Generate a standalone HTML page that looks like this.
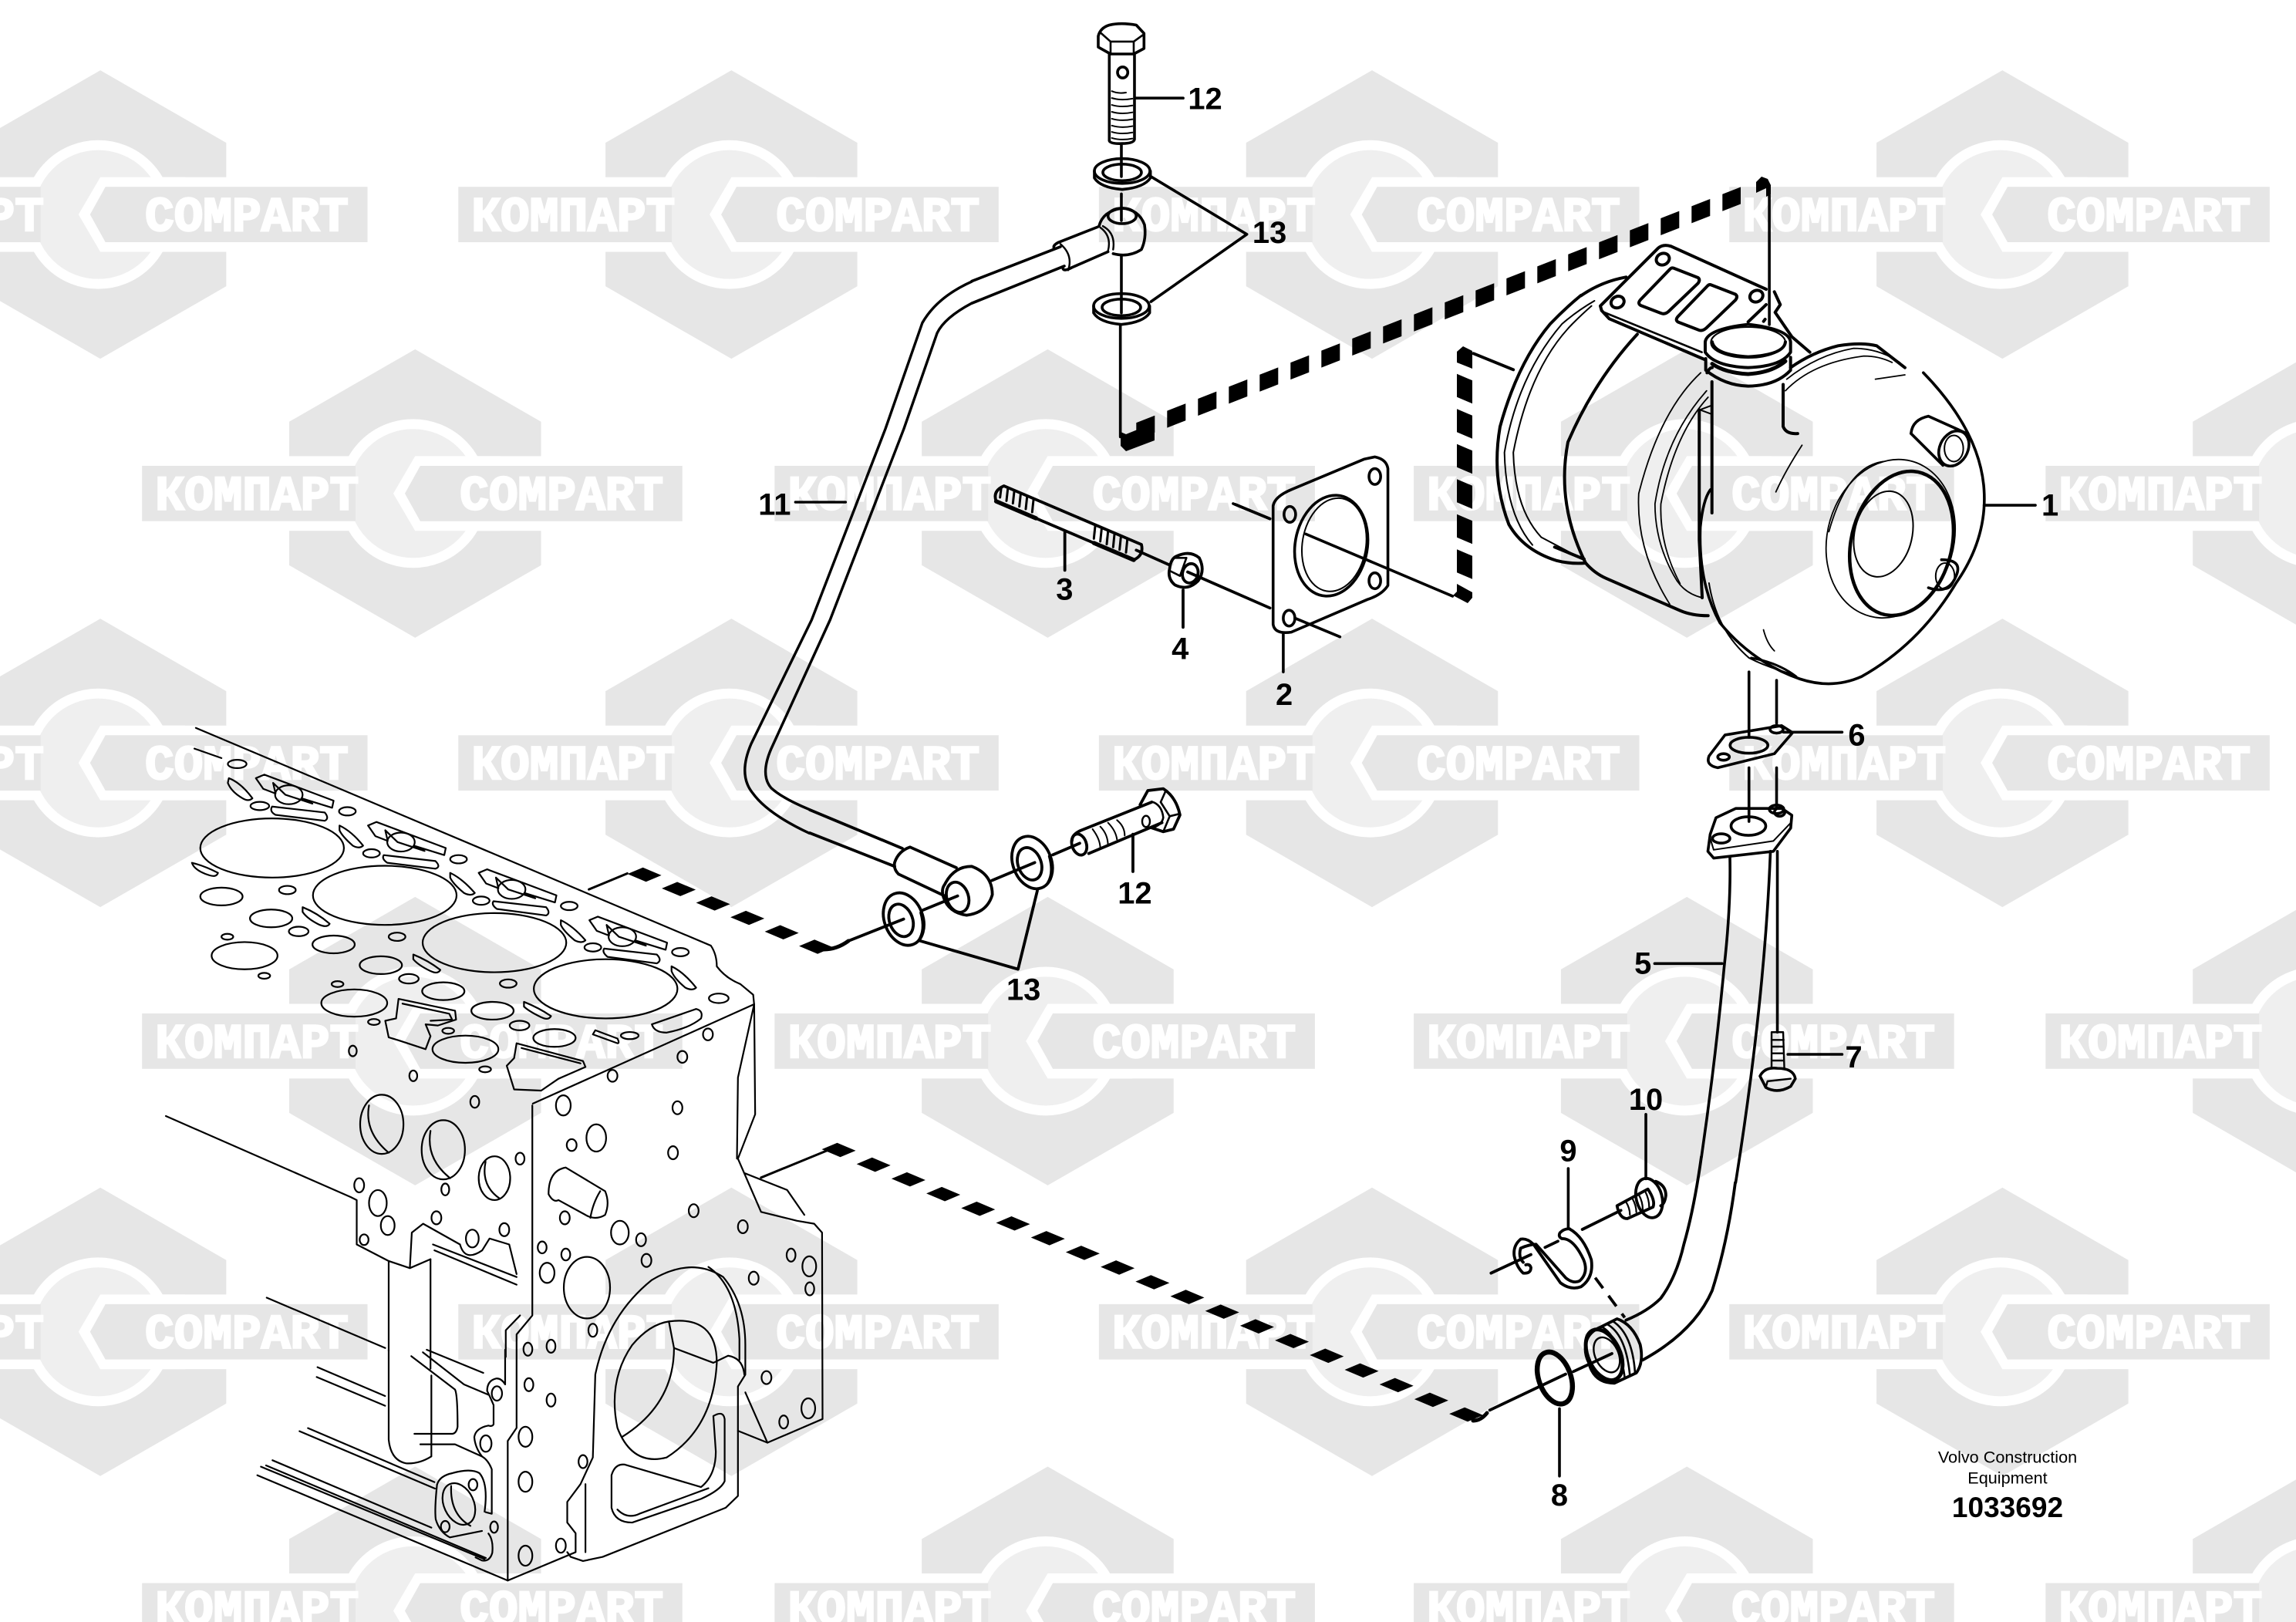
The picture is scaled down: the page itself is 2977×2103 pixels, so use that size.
<!DOCTYPE html>
<html><head><meta charset="utf-8"><title>Turbocharger diagram</title>
<style>
html,body{margin:0;padding:0;background:#fff;width:2977px;height:2103px;overflow:hidden}
svg{display:block}
.a{fill:none;stroke:#000;stroke-linejoin:round;stroke-linecap:round;vector-effect:non-scaling-stroke}
.a *{vector-effect:non-scaling-stroke}
.w{font-family:"Liberation Mono","Liberation Sans",monospace;font-weight:bold;font-size:33px;fill:#fff;stroke:#fff;stroke-width:1.3px;text-anchor:middle}
.l{font-family:"Liberation Sans",sans-serif;font-weight:bold;font-size:21px;fill:#000;text-anchor:middle}
</style></head><body>
<svg xmlns="http://www.w3.org/2000/svg" width="2977" height="2103" viewBox="0 0 2977 2103">
<rect width="2977" height="2103" fill="#fff"/>
<defs>
<g id="tile">
<polygon points="2,-98.5 88,-49 88,49 2,98.5 -84,49 -84,-49" fill="#e6e6e6"/>
<rect x="-190" y="-25.5" width="380" height="51" fill="#fff"/>
<circle cx="0.6" cy="0" r="47.4" fill="#efefef" stroke="#fff" stroke-width="6.8"/>
<polygon points="2,-25.5 -12.9,0 2,25.5 60,25.5 60,-25.5" fill="#fff"/>
<rect x="-184.5" y="-18.9" width="145.8" height="37.8" fill="#e6e6e6"/>
<polygon points="5.5,-18.9 -5,0 5.5,18.9 184.5,18.9 184.5,-18.9" fill="#e6e6e6"/>
</g>
</defs>
<g transform="scale(1.8986)">
<use href="#tile" x="66.5" y="146.5"/><use href="#tile" x="497.5" y="146.5"/><use href="#tile" x="935" y="146.5"/><use href="#tile" x="1365.5" y="146.5"/>
<use href="#tile" x="281.5" y="337"/><use href="#tile" x="713.5" y="337"/><use href="#tile" x="1150" y="337"/><use href="#tile" x="1581.5" y="337"/>
<use href="#tile" x="66.5" y="521"/><use href="#tile" x="497.5" y="521"/><use href="#tile" x="935" y="521"/><use href="#tile" x="1365.5" y="521"/>
<use href="#tile" x="281.5" y="711"/><use href="#tile" x="713.5" y="711"/><use href="#tile" x="1150" y="711"/><use href="#tile" x="1581.5" y="711"/>
<use href="#tile" x="66.5" y="909.5"/><use href="#tile" x="497.5" y="909.5"/><use href="#tile" x="935" y="909.5"/><use href="#tile" x="1365.5" y="909.5"/>
<use href="#tile" x="281.5" y="1100"/><use href="#tile" x="713.5" y="1100"/><use href="#tile" x="1150" y="1100"/><use href="#tile" x="1581.5" y="1100"/>
<g class="w">
<text x="-39.5" y="157.5" textLength="139" lengthAdjust="spacingAndGlyphs">КОМПАРТ</text><text x="168.5" y="157.5" textLength="139" lengthAdjust="spacingAndGlyphs">COMPART</text>
<text x="391.5" y="157.5" textLength="139" lengthAdjust="spacingAndGlyphs">КОМПАРТ</text><text x="599.5" y="157.5" textLength="139" lengthAdjust="spacingAndGlyphs">COMPART</text>
<text x="829" y="157.5" textLength="139" lengthAdjust="spacingAndGlyphs">КОМПАРТ</text><text x="1037" y="157.5" textLength="139" lengthAdjust="spacingAndGlyphs">COMPART</text>
<text x="1259.5" y="157.5" textLength="139" lengthAdjust="spacingAndGlyphs">КОМПАРТ</text><text x="1467.5" y="157.5" textLength="139" lengthAdjust="spacingAndGlyphs">COMPART</text>
<text x="175.5" y="348" textLength="139" lengthAdjust="spacingAndGlyphs">КОМПАРТ</text><text x="383.5" y="348" textLength="139" lengthAdjust="spacingAndGlyphs">COMPART</text>
<text x="607.5" y="348" textLength="139" lengthAdjust="spacingAndGlyphs">КОМПАРТ</text><text x="815.5" y="348" textLength="139" lengthAdjust="spacingAndGlyphs">COMPART</text>
<text x="1044" y="348" textLength="139" lengthAdjust="spacingAndGlyphs">КОМПАРТ</text><text x="1252" y="348" textLength="139" lengthAdjust="spacingAndGlyphs">COMPART</text>
<text x="1475.5" y="348" textLength="139" lengthAdjust="spacingAndGlyphs">КОМПАРТ</text>
<text x="-39.5" y="532" textLength="139" lengthAdjust="spacingAndGlyphs">КОМПАРТ</text><text x="168.5" y="532" textLength="139" lengthAdjust="spacingAndGlyphs">COMPART</text>
<text x="391.5" y="532" textLength="139" lengthAdjust="spacingAndGlyphs">КОМПАРТ</text><text x="599.5" y="532" textLength="139" lengthAdjust="spacingAndGlyphs">COMPART</text>
<text x="829" y="532" textLength="139" lengthAdjust="spacingAndGlyphs">КОМПАРТ</text><text x="1037" y="532" textLength="139" lengthAdjust="spacingAndGlyphs">COMPART</text>
<text x="1259.5" y="532" textLength="139" lengthAdjust="spacingAndGlyphs">КОМПАРТ</text><text x="1467.5" y="532" textLength="139" lengthAdjust="spacingAndGlyphs">COMPART</text>
<text x="175.5" y="722" textLength="139" lengthAdjust="spacingAndGlyphs">КОМПАРТ</text><text x="383.5" y="722" textLength="139" lengthAdjust="spacingAndGlyphs">COMPART</text>
<text x="607.5" y="722" textLength="139" lengthAdjust="spacingAndGlyphs">КОМПАРТ</text><text x="815.5" y="722" textLength="139" lengthAdjust="spacingAndGlyphs">COMPART</text>
<text x="1044" y="722" textLength="139" lengthAdjust="spacingAndGlyphs">КОМПАРТ</text><text x="1252" y="722" textLength="139" lengthAdjust="spacingAndGlyphs">COMPART</text>
<text x="1475.5" y="722" textLength="139" lengthAdjust="spacingAndGlyphs">КОМПАРТ</text>
<text x="-39.5" y="920.5" textLength="139" lengthAdjust="spacingAndGlyphs">КОМПАРТ</text><text x="168.5" y="920.5" textLength="139" lengthAdjust="spacingAndGlyphs">COMPART</text>
<text x="391.5" y="920.5" textLength="139" lengthAdjust="spacingAndGlyphs">КОМПАРТ</text><text x="599.5" y="920.5" textLength="139" lengthAdjust="spacingAndGlyphs">COMPART</text>
<text x="829" y="920.5" textLength="139" lengthAdjust="spacingAndGlyphs">КОМПАРТ</text><text x="1037" y="920.5" textLength="139" lengthAdjust="spacingAndGlyphs">COMPART</text>
<text x="1259.5" y="920.5" textLength="139" lengthAdjust="spacingAndGlyphs">КОМПАРТ</text><text x="1467.5" y="920.5" textLength="139" lengthAdjust="spacingAndGlyphs">COMPART</text>
<text x="175.5" y="1109" textLength="139" lengthAdjust="spacingAndGlyphs">КОМПАРТ</text><text x="383.5" y="1109" textLength="139" lengthAdjust="spacingAndGlyphs">COMPART</text>
<text x="607.5" y="1109" textLength="139" lengthAdjust="spacingAndGlyphs">КОМПАРТ</text><text x="815.5" y="1109" textLength="139" lengthAdjust="spacingAndGlyphs">COMPART</text>
<text x="1044" y="1109" textLength="139" lengthAdjust="spacingAndGlyphs">КОМПАРТ</text><text x="1252" y="1109" textLength="139" lengthAdjust="spacingAndGlyphs">COMPART</text>
<text x="1475.5" y="1109" textLength="139" lengthAdjust="spacingAndGlyphs">КОМПАРТ</text>
</g>
</g>

<!-- Thick dashed connectors: sheared dashes -->
<g fill="none" stroke="#000">
<path transform="translate(2125,305) matrix(1,-0.39,0,1,0,0)" d="M-651.7 0 H132" stroke-width="22" stroke-dasharray="24 16"/>
<path transform="translate(1899,504) matrix(1,0.42,0,1,0,0)" d="M0 -15 V243" stroke-width="20" stroke-dasharray="30 15.5"/>
<path transform="translate(835.6,1134) matrix(1,0.42,1,-0.42,0,0)" d="M-12 0 H234.5" stroke-width="20" stroke-dasharray="24 20.5"/>
<path transform="translate(1087.5,1491) matrix(1,0.4216,1,-0.4216,0,0)" d="M-12 0 H825.5" stroke-width="20" stroke-dasharray="24 21.2"/>
</g>
<g fill="#000" stroke="none">
<polygon points="1453,560 1453,578 1460,585 1497,571 1497,548 1460,563"/>
<polygon points="2277,236 2284,229 2292,232 2296,240 2296,252 2290,255 2290,244 2277,250"/>
<polygon points="1889,470 1889,456 1897,449 1909,455 1909,478"/>
<polygon points="1889,757 1909,768 1909,775 1903,782 1884,772 1889,767"/>
</g>
<g class="a" stroke-width="4">
<path d="M1068 1231 Q1085 1231 1100 1220" stroke-width="5"/>
<path d="M1910 1842 Q1920 1842 1928 1832" stroke-width="5"/>
</g>

<!-- Engine block -->
<g class="a" stroke-width="2.2" transform="translate(150,900) scale(0.6378,0.7672)">
<path d="M163 57 L1210 425 Q1222 440 1222 460 Q1240 480 1270 490 L1296 508 L1298 525"/>
<path d="M160 92 L215 108"/>
<path d="M848 692 L1298 524 L1265 648 L1263 785 M1298 524 L1300 710 L1265 785 L1312 875 L1385 890 L1420 895 L1436 910 L1437 1225 L1325 1265 L1265 1245"/>
<path d="M1280 810 L1365 838 L1400 880"/>
<path d="M847 695 L847 1050 L815 1082 L815 1240 L797 1262 L797 1498"/>
<path d="M822 1050 L793 1075 L793 1120"/>
<path d="M288 1320 L797 1498 L935 1450 L935 1418 L918 1400 L918 1365 L945 1335 L970 1290 L975 1150 Q1000 1050 1090 990 Q1170 950 1235 985 Q1280 1030 1280 1100 L1280 1150 L1265 1170 L1265 1355 L1240 1375 L990 1458 L950 1465 L925 1458 L918 1450"/>
<path d="M1205 968 Q1262 1000 1268 1090 L1268 1125"/>
<path d="M955 1335 L955 1450"/>
<path d="M1280 1180 L1325 1265"/>
<path d="M1125 1060 Q1222 1050 1222 1130 Q1215 1240 1120 1290 Q1050 1305 1020 1240 Q1000 1160 1050 1100 Q1085 1065 1125 1060 Z"/>
<path d="M1125 1062 L1135 1105 L1215 1130 L1245 1118 Q1275 1122 1278 1150"/>
<path d="M1135 1105 Q1135 1200 1030 1255"/>
<path d="M1035 1302 L1190 1340 Q1220 1320 1220 1280 L1215 1220 Q1235 1210 1238 1225 L1238 1330 Q1230 1345 1190 1360 L1050 1400 Q1015 1400 1008 1375 L1008 1320 Q1015 1300 1035 1302"/>
<path d="M1020 1378 Q1040 1395 1065 1385 L1205 1342"/>
<!-- left side -->
<path d="M102 713 L478 850 L490 855 L490 930 L555 958 L598 970 L640 955 M555 958 V1110"/>
<path d="M598 970 L602 910 L625 895 L700 930 Q710 960 745 940 L760 920 L800 930 L815 980"/>
<path d="M640 955 V1140 M645 930 L815 985 M648 940 L815 998"/>
<path d="M307 1020 L548 1105"/>
<!-- top holes -->
<g>
<ellipse cx="318" cy="260" rx="146" ry="50"/><ellipse cx="547" cy="340" rx="146" ry="50"/><ellipse cx="770" cy="420" rx="146" ry="50"/><ellipse cx="996" cy="498" rx="146" ry="50"/>
<ellipse cx="215" cy="342" rx="43" ry="15"/><ellipse cx="316" cy="379" rx="43" ry="15"/><ellipse cx="262" cy="442" rx="67" ry="23"/><ellipse cx="443" cy="423" rx="43" ry="15"/><ellipse cx="539" cy="458" rx="43" ry="15"/><ellipse cx="485" cy="522" rx="67" ry="23"/><ellipse cx="666" cy="502" rx="43" ry="15"/><ellipse cx="766" cy="535" rx="43" ry="15"/><ellipse cx="711" cy="600" rx="67" ry="23"/><ellipse cx="892" cy="581" rx="43" ry="15"/>
<ellipse cx="247" cy="118" rx="19" ry="7"/><ellipse cx="293" cy="189" rx="19" ry="7"/><ellipse cx="471" cy="198" rx="17" ry="7"/><ellipse cx="520" cy="269" rx="17" ry="7"/><ellipse cx="697" cy="279" rx="17" ry="7"/><ellipse cx="743" cy="349" rx="17" ry="7"/><ellipse cx="922" cy="358" rx="17" ry="7"/><ellipse cx="970" cy="428" rx="17" ry="7"/><ellipse cx="1148" cy="436" rx="17" ry="7"/><ellipse cx="1226" cy="514" rx="20" ry="8"/><ellipse cx="349" cy="331" rx="17" ry="7"/><ellipse cx="372" cy="401" rx="20" ry="8"/><ellipse cx="572" cy="410" rx="17" ry="7"/><ellipse cx="596" cy="481" rx="20" ry="8"/><ellipse cx="798" cy="489" rx="17" ry="7"/><ellipse cx="821" cy="560" rx="20" ry="8"/><ellipse cx="1045" cy="577" rx="18" ry="6"/><ellipse cx="227" cy="410" rx="12" ry="5"/><ellipse cx="302" cy="476" rx="12" ry="5"/><ellipse cx="451" cy="490" rx="12" ry="5"/><ellipse cx="525" cy="554" rx="12" ry="5"/><ellipse cx="676" cy="569" rx="12" ry="5"/><ellipse cx="751" cy="634" rx="12" ry="5"/>
<path d="M230 142 Q255 150 278 176 Q270 182 258 176 Q235 165 228 150 Z"/>
<path d="M155 285 Q180 290 208 302 Q205 310 190 306 Q160 298 155 285 Z"/>
<path d="M380 360 Q410 370 435 388 Q430 395 415 390 Q390 380 380 368 Z"/>
<path d="M605 440 Q635 450 660 466 Q655 474 640 468 Q615 458 605 448 Z"/>
<path d="M830 520 Q860 530 885 544 Q880 552 865 546 Q840 536 830 528 Z"/>
<path d="M455 222 Q480 232 503 256 Q495 262 482 256 Q460 240 455 230 Z"/>
<path d="M680 302 Q705 312 730 336 Q722 342 708 336 Q685 320 680 310 Z"/>
<path d="M905 382 Q930 392 955 416 Q947 422 933 416 Q910 400 905 390 Z"/>
<path d="M1130 460 Q1155 470 1180 496 Q1172 502 1158 496 Q1135 480 1130 468 Z"/>
<path d="M318 190 L425 200 Q435 210 425 214 L325 204 Q312 198 318 190 Z"/>
<path d="M545 272 L650 282 Q662 292 650 295 L552 285 Q540 278 545 272 Z"/>
<path d="M768 350 L875 360 Q885 370 875 374 L775 363 Q763 356 768 350 Z"/>
<path d="M993 430 L1100 440 Q1112 450 1100 455 L1000 444 Q988 436 993 430 Z"/>
<path d="M285 142 L302 136 L443 180 L440 192 L378 176 L400 185 L345 170 L320 150 L325 168 L300 160 Z"/><ellipse cx="352" cy="170" rx="28" ry="16"/>
<path d="M513 222 L530 216 L671 260 L668 272 L606 256 L628 265 L573 250 L548 230 L553 248 L528 240 Z"/><ellipse cx="580" cy="250" rx="28" ry="16"/>
<path d="M738 302 L755 296 L896 340 L893 352 L831 336 L853 345 L798 330 L773 310 L778 328 L753 320 Z"/><ellipse cx="805" cy="330" rx="28" ry="16"/>
<path d="M963 382 L980 376 L1121 420 L1118 432 L1056 416 L1078 425 L1023 410 L998 390 L1003 408 L978 400 Z"/><ellipse cx="1030" cy="410" rx="28" ry="16"/>
<path d="M1090 558 L1180 532 Q1195 535 1190 548 Q1165 565 1120 572 Q1095 572 1090 558 Z"/>
<path d="M970 575 L1020 590 Q1025 590 1020 582 L975 568 Z"/>
<path d="M575 515 L690 535 L692 550 L655 560 L630 558 L640 578 L630 600 L575 585 L555 580 L548 552 L570 548 Z"/>
<path d="M583 523 L678 540 L684 550 L640 552"/>
<path d="M815 590 L950 620 L955 630 L900 650 L865 670 L810 668 L795 628 L810 615 Z"/>
<path d="M825 598 L945 624"/>
<ellipse cx="482" cy="603" rx="8" ry="9"/><ellipse cx="605" cy="645" rx="8" ry="9"/><ellipse cx="730" cy="689" rx="9" ry="10"/><ellipse cx="822" cy="785" rx="9" ry="10"/><ellipse cx="495" cy="830" rx="10" ry="12"/><ellipse cx="533" cy="860" rx="18" ry="22"/><ellipse cx="553" cy="898" rx="14" ry="16"/><ellipse cx="505" cy="922" rx="9" ry="9"/><ellipse cx="652" cy="885" rx="10" ry="11"/><ellipse cx="670" cy="837" rx="8" ry="10"/><ellipse cx="725" cy="920" rx="13" ry="15"/><ellipse cx="790" cy="905" rx="10" ry="11"/>
<ellipse cx="541" cy="727" rx="44" ry="50"/><path d="M515 695 Q505 740 555 775"/>
<ellipse cx="666" cy="770" rx="44" ry="50"/><path d="M640 738 Q630 785 680 818"/>
<ellipse cx="770" cy="818" rx="32" ry="37"/><path d="M752 790 Q742 830 780 852"/>
<ellipse cx="910" cy="695" rx="15" ry="17"/><ellipse cx="1010" cy="645" rx="10" ry="10"/><ellipse cx="1152" cy="613" rx="10" ry="10"/><ellipse cx="1204" cy="575" rx="10" ry="10"/><ellipse cx="1142" cy="699" rx="10" ry="11"/><ellipse cx="977" cy="750" rx="20" ry="23"/><ellipse cx="927" cy="762" rx="10" ry="10"/><ellipse cx="1133" cy="775" rx="10" ry="11"/><ellipse cx="913" cy="885" rx="10" ry="11"/><ellipse cx="1175" cy="873" rx="10" ry="11"/><ellipse cx="1025" cy="910" rx="18" ry="20"/><ellipse cx="1068" cy="922" rx="10" ry="11"/><ellipse cx="867" cy="935" rx="9" ry="10"/><ellipse cx="915" cy="947" rx="9" ry="10"/><ellipse cx="1079" cy="957" rx="10" ry="11"/><ellipse cx="877" cy="978" rx="15" ry="17"/><ellipse cx="958" cy="1003" rx="47" ry="52"/><ellipse cx="970" cy="1075" rx="9" ry="11"/><ellipse cx="1275" cy="900" rx="10" ry="11"/><ellipse cx="1297" cy="987" rx="10" ry="11"/><ellipse cx="838" cy="1107" rx="9" ry="11"/><ellipse cx="885" cy="1102" rx="9" ry="11"/><ellipse cx="840" cy="1167" rx="9" ry="11"/><ellipse cx="885" cy="1193" rx="9" ry="11"/><ellipse cx="1373" cy="948" rx="9" ry="11"/><ellipse cx="1410" cy="967" rx="14" ry="17"/><ellipse cx="1411" cy="1005" rx="9" ry="11"/><ellipse cx="1323" cy="1155" rx="10" ry="11"/><ellipse cx="1358" cy="1230" rx="9" ry="11"/><ellipse cx="1408" cy="1207" rx="14" ry="17"/><ellipse cx="833" cy="1255" rx="14" ry="17"/><ellipse cx="833" cy="1331" rx="14" ry="17"/><ellipse cx="950" cy="1297" rx="9" ry="11"/><ellipse cx="905" cy="1439" rx="10" ry="12"/><ellipse cx="833" cy="1456" rx="14" ry="17"/>
<path d="M880 845 Q880 805 915 800 L995 840 Q1005 860 995 880 Q975 890 955 880 L900 855 Q890 860 880 845 Z"/><path d="M985 840 Q970 860 965 885"/>
</g>
<path d="M962 330 L1040 303" stroke-width="3"/>
<path d="M1312 817 L1450 770" stroke-width="3"/>
</g>

<!-- Engine lower-left detail -->
<g class="a" stroke-width="2.2" transform="translate(300,1750) scale(0.3333)">
<path d="M335 68 L598 180 M332 106 L598 218 M298 305 L790 515 M265 317 L792 540 M160 430 L778 692 M135 450 L990 810 M115 455 L985 815"/>
<path d="M1065 0 V135 Q1050 110 1030 112 Q995 120 995 160 Q1005 180 1020 215 L1020 290 Q1015 300 1000 295 Q950 305 945 340 Q948 380 975 415 Q1000 430 1013 465 V638 L990 632"/>
<path d="M612 0 V350 Q620 430 680 442 Q730 445 778 415 V100"/>
<path d="M700 25 L870 155 Q880 175 880 300 Q875 325 860 327 L712 327"/>
<path d="M745 10 L905 135 L1000 175 M760 0 L980 90"/>
<path d="M735 368 H870 L975 415"/>
<path d="M800 525 Q810 490 860 480 Q930 460 965 480 Q1000 520 985 630"/>
<path d="M800 525 Q790 620 795 660 Q810 710 850 730 L975 705"/>
<path d="M1000 715 Q1020 740 1015 790 Q1005 825 975 820 L950 808"/>
<ellipse cx="885" cy="600" rx="58" ry="85" transform="rotate(-25 885 600)"/>
<path d="M855 530 Q850 640 930 685"/>
<ellipse cx="940" cy="525" rx="17" ry="22"/><ellipse cx="832" cy="688" rx="17" ry="22"/><ellipse cx="1022" cy="690" rx="15" ry="22"/><ellipse cx="990" cy="365" rx="22" ry="32"/><ellipse cx="1033" cy="170" rx="20" ry="28"/>
</g>

<!-- Pipe 11 lower, leader -->
<g class="a" stroke-width="3.4" transform="scale(0.9567,0.6698)">
<path d="M1317 545 Q1270 575 1250 625 L1200 830 L1100 1200 L1018 1440 Q1000 1500 1020 1535 Q1040 1575 1097 1613"/>
<path d="M1317 587 Q1280 615 1270 645 L1225 830 L1125 1200 L1045 1450 Q1030 1500 1045 1525 Q1060 1545 1097 1567"/>
<path d="M1078 972 H1146"/>
</g>

<!-- Top banjo bolt -->
<g class="a" stroke-width="3.6" transform="translate(1260,20) scale(0.3333,0.3571)">
<path d="M492 75 Q500 45 535 35 Q580 25 640 35 L670 65 V120 L630 140 H540 L492 115 Z"/>
<path d="M500 62 L540 95 H630 L670 68 M540 95 V138 M630 95 V138" stroke-width="2.6"/>
<path d="M535 140 V455 Q540 467 585 465 Q630 465 633 450 V140"/>
<ellipse cx="587" cy="207" rx="20" ry="20"/>
<path d="M545 275 Q570 285 600 280 M545 300 Q580 310 625 302 M545 325 Q580 335 625 327 M545 350 Q580 360 625 352 M545 375 Q580 385 625 377 M545 400 Q580 410 625 402 M545 423 Q580 433 625 425 M545 445 Q580 455 625 447" stroke-width="2"/>
<path d="M582 470 V585 M582 648 V745 M582 870 V1080 M578 1125 V1530"/>
<ellipse cx="585" cy="565" rx="108" ry="45"/><ellipse cx="585" cy="570" rx="75" ry="30"/>
<path d="M477 565 V590 Q500 625 585 632 Q670 625 695 590 V565"/>
<ellipse cx="582" cy="1055" rx="108" ry="45"/><ellipse cx="582" cy="1060" rx="75" ry="30"/>
<path d="M474 1055 V1080 Q497 1115 582 1122 Q667 1115 692 1080 V1055"/>
<path d="M495 765 Q510 710 585 700 Q650 705 672 760 Q680 810 660 850 Q610 880 550 865"/>
<ellipse cx="585" cy="728" rx="55" ry="28"/>
<path d="M490 768 L335 825 Q315 835 320 845 M530 858 L390 915 Q360 930 355 920"/>
<path d="M510 765 Q560 790 550 850 M500 770 Q545 800 530 855 M345 830 Q395 870 375 925" stroke-width="2.4"/>
<path d="M0 965 L345 840 M0 1045 L360 910"/>
</g>

<!-- Stud & nut -->
<g class="a" stroke-width="3.8" transform="translate(1260,600) scale(0.3333)">
<path d="M125 90 L660 318 Q670 360 630 378 L95 150 Q80 110 125 90 Z"/>
<path d="M115 95 L110 135 M140 103 L135 148 M165 113 L160 158 M190 124 L185 170 M215 134 L210 180 M240 145 L235 192 M480 247 L475 295 M505 258 L500 306 M530 268 L525 317 M555 279 L550 328 M580 289 L575 338 M605 300 L600 349" stroke-width="3"/>
<path d="M95 150 L250 216 M475 312 L630 378" stroke-width="5.5"/>
<path d="M640 340 L770 398"/>
<path d="M770 410 Q775 370 800 362 Q850 340 885 370 Q910 420 880 460 Q840 500 790 475 Q760 450 770 410 Z"/>
<path d="M785 370 L835 370 L810 440 L770 420" stroke-width="2.6"/>
<ellipse cx="850" cy="430" rx="30" ry="38" transform="rotate(15 850 430)"/>
<path d="M840 425 L1160 565"/>
<path d="M822 495 V640 M362 270 V418"/>
<path d="M1025 162 L1160 218"/>
</g>

<!-- Upper leaders -->
<g class="a" stroke-width="3.6" transform="scale(1.8986)">
<path d="M775 67 H808"/>
<path d="M786 120.6 L851.5 160 L786 206"/>
<path d="M1355 345 H1390"/>
<path d="M1218 500 H1258"/>
<path d="M1130 658 H1176"/>
<path d="M1221 720 H1258"/>
<path d="M1124 761 V805"/>
<path d="M1071 798 V839"/>
<path d="M1065 962 V1008"/>
</g>

<!-- Turbo rear section -->
<g class="a" stroke-width="4" transform="translate(1700,420) scale(0.3827,0.3333)">
<path d="M914 -111 Q860 -60 810 0 Q700 150 640 400 Q610 600 670 780 Q720 880 830 920 Q880 935 930 930"/>
<path d="M960 -90 Q900 -50 850 0 Q700 200 655 500 Q660 740 750 860" stroke-width="2"/>
<path d="M950 -70 Q920 -40 885 0 Q740 170 685 500 Q690 720 780 830 L920 915" stroke-width="2"/>
<path d="M825 868 L925 915"/>
<path d="M1105 40 Q960 220 870 460 Q830 700 930 930 Q960 970 1000 990 L1250 1115 Q1290 1135 1345 1135"/>
<path d="M1320 190 Q1180 340 1110 660 Q1100 880 1215 1090" stroke-width="1.8"/>
<path d="M1340 260 Q1200 440 1165 700 Q1165 860 1240 1000 Q1270 1050 1325 1065" stroke-width="1.8"/>
<path d="M1345 285 Q1230 430 1185 700 Q1180 860 1250 1010" stroke-width="1.8"/>
<path d="M1315 335 V840 L1325 1065"/>
<path d="M1315 335 L1355 318 M1320 335 L1355 350" stroke-width="2"/>
<path d="M1358 225 V735"/>
<path d="M550 115 L685 178"/>
</g>

<!-- Turbo plate and cap -->
<g class="a" stroke-width="4" transform="translate(2050,280) scale(0.3333)">
<path d="M720 285 L350 118 Q320 108 300 125 L75 350 L80 368 L110 400 L480 558"/>
<path d="M90 375 L470 530" stroke-width="2.6"/>
<path d="M720 345 L650 412 M710 410 L716 402"/>
<path d="M752 295 L775 345 L755 375 L820 470 L890 530"/>
<ellipse cx="318" cy="168" rx="26" ry="22" transform="rotate(-25 318 168)"/>
<ellipse cx="142" cy="335" rx="26" ry="22" transform="rotate(-25 142 335)"/>
<ellipse cx="682" cy="312" rx="26" ry="22" transform="rotate(-25 682 312)"/>
<path d="M360 203 L455 240 Q465 248 455 262 L340 372 Q325 385 310 378 L232 348 Q218 340 232 325 L345 208 Q352 200 360 203 Z"/>
<path d="M506 268 L601 305 Q611 313 601 327 L486 437 Q471 450 456 443 L378 413 Q364 405 378 390 L491 273 Q498 265 506 268 Z"/>
<path d="M815 490 Q810 440 650 422 Q490 440 483 490 V530 Q520 585 650 590 Q780 585 815 530 Z"/>
<ellipse cx="650" cy="492" rx="145" ry="60" stroke-width="2"/>
<path d="M510 490 Q520 540 650 548 Q790 540 795 490"/>
<path d="M485 555 V600 Q560 660 650 662 Q760 660 815 600 V550"/>
<path d="M510 575 Q560 610 650 615 Q740 610 795 565" stroke-width="5"/>
<path d="M490 610 Q500 590 510 590 M0 310 Q80 255 175 238"/>
<path d="M815 590 Q900 530 1000 505 Q1090 490 1150 505 L1260 590"/>
<path d="M800 635 Q920 540 1060 515 Q1160 515 1240 570 M795 680 Q900 570 1100 545 Q1160 545 1210 570 M1145 635 L1260 618" stroke-width="1.8"/>
</g>

<!-- Snail housing, gasket etc. -->
<g class="a" stroke-width="3.6" transform="translate(1500,150) scale(0.942,0.606)">
<path d="M862 575 V665 Q866 682 882 680" stroke-width="4"/>
<path d="M1055 550 Q1130 670 1138 790 Q1145 900 1100 1000 Q1050 1130 970 1200 Q930 1228 885 1205 Q820 1170 775 1085 Q745 1000 748 880 Q752 820 762 800"/>
<path d="M760 1000 Q770 1100 815 1160 Q840 1180 875 1195" stroke-width="2"/>
<path d="M818 1160 Q855 1170 880 1200" stroke-width="3"/>
<path d="M888 705 Q865 760 852 805 M835 1100 Q840 1130 850 1145" stroke-width="1.8"/>
<ellipse cx="1010" cy="905" rx="88" ry="170" stroke-width="1.8" transform="rotate(5 1010 905)"/>
<ellipse cx="1025" cy="915" rx="70" ry="155" stroke-width="4.5" transform="rotate(6 1025 915)"/>
<ellipse cx="1000" cy="895" rx="40" ry="92" stroke-width="2" transform="rotate(6 1000 895)"/>
<path d="M1000 740 Q950 750 925 890" stroke-width="1.8"/>
<path d="M1062 643 L1115 680 M1038 680 L1082 748 M1062 643 Q1040 650 1038 680"/>
<ellipse cx="1097" cy="712" rx="20" ry="38" transform="rotate(10 1097 712)"/>
<ellipse cx="1097" cy="712" rx="13" ry="28" stroke-width="2"/>
<path d="M1080 950 Q1110 950 1100 985 Q1090 1025 1062 1010"/>
<ellipse cx="1085" cy="985" rx="13" ry="28" stroke-width="2"/>
<path d="M300 730 Q316 735 318 755 L318 1005 Q310 1025 290 1035 L185 1105 Q162 1110 160 1088 L160 835 Q162 815 185 800 L285 735 Z"/>
<ellipse cx="240" cy="920" rx="50" ry="108" transform="rotate(4 240 920)"/>
<ellipse cx="244" cy="918" rx="44" ry="100" stroke-width="2" transform="rotate(4 244 918)"/>
<ellipse cx="183" cy="853" rx="8" ry="17"/><ellipse cx="300" cy="772" rx="8" ry="17"/><ellipse cx="300" cy="995" rx="8" ry="17"/><ellipse cx="182" cy="1075" rx="8" ry="17"/>
<path d="M105 830 L155 862 M190 1075 L252 1115 M205 895 L407 1028"/>
<path d="M843 170 V447"/>
<path d="M174 1110 V1190"/>
<path d="M815 1190 V1330 M853 1208 V1300 M815 1395 V1510 M853 1395 V1480"/>
<path d="M760 1370 L782 1325 L860 1305 L875 1320 L850 1365 L772 1395 Q755 1390 760 1370 Z"/>
<ellipse cx="815" cy="1347" rx="26" ry="17"/><ellipse cx="780" cy="1372" rx="8" ry="7"/><ellipse cx="853" cy="1313" rx="9" ry="8"/>
<ellipse cx="853" cy="1484" rx="10" ry="9"/>
</g>

<!-- Flange, pipe 5 upper, bolt 7 -->
<g class="a" stroke-width="3.6" transform="translate(1800,1000) scale(0.7508,0.6698)">
<path d="M566 90 L600 72 L680 72 L697 85 L695 110 L665 155 L562 168 L552 155 L556 122 Z"/>
<path d="M556 130 L562 152 L665 135 L695 100" stroke-width="2"/>
<ellipse cx="622" cy="106" rx="30" ry="18"/><ellipse cx="575" cy="130" rx="15" ry="9"/><ellipse cx="676" cy="79" rx="9" ry="8"/>
<path d="M590 165 Q592 260 580 380 Q565 560 541 746"/>
<path d="M660 155 Q655 300 640 460 Q625 620 600 796"/>
<path d="M672 155 V505"/>
<path d="M662 505 L682 505 L684 575 L662 575 Z M662 520 H683 M662 533 H683 M662 546 H683 M662 560 H683" stroke-width="2.4"/>
<path d="M642 590 Q650 572 672 575 Q700 575 703 595 L695 610 Q672 625 652 612 Z"/>
<path d="M652 612 L655 600 L695 595" stroke-width="2.4"/>
</g>

<!-- Clip, O-ring, socket, bolt 10 -->
<g class="a" stroke-width="3.8" transform="translate(1920,1500) scale(0.3333)">
<path d="M858 0 Q830 200 790 340 Q760 470 700 550 Q650 600 565 635"/>
<path d="M990 100 Q960 330 900 520 Q830 680 630 790"/>
<path d="M410 720 Q420 680 470 660 L530 630 Q590 650 620 730 Q635 800 605 840 L520 880 Q440 880 420 800 Q400 760 410 720 Z"/>
<path d="M470 660 Q540 700 560 860 M490 650 Q565 690 580 850 M515 640 Q590 690 600 840" stroke-width="2.6"/>
<ellipse cx="480" cy="770" rx="62" ry="105" transform="rotate(-25 480 770)" stroke-width="5"/>
<ellipse cx="490" cy="770" rx="45" ry="72" transform="rotate(-25 490 770)" stroke-width="2.4"/>
<path d="M35 985 L330 845 M360 835 L510 765"/>
<ellipse cx="288" cy="860" rx="62" ry="105" transform="rotate(-20 288 860)" stroke-width="6.5"/>
<path d="M445 470 L560 625" stroke-dasharray="17 12" stroke-linecap="butt"/>
<path d="M345 280 Q325 278 308 295 Q300 310 315 318 Q360 315 400 400 Q420 450 385 482 Q360 495 330 470 L215 340 Q190 340 155 355 Q145 390 165 410"/>
<path d="M345 280 Q400 310 430 400 Q440 470 390 505 Q350 520 310 490 L205 340 Q180 315 155 320 Q125 345 130 385 Q140 430 165 452 Q195 455 195 430 Q190 415 175 420"/>
<path d="M40 452 L195 380 M250 352 L300 328 M395 282 L545 208"/>
<ellipse cx="655" cy="160" rx="50" ry="78" transform="rotate(-15 655 160)"/>
<path d="M680 95 Q720 110 720 150 Q715 185 700 190"/>
<path d="M530 190 L650 125 Q680 170 670 195 L570 240 Q540 240 530 190 Z"/>
<path d="M565 175 Q580 200 580 225 M590 162 Q605 190 605 215 M615 148 Q630 175 630 205 M640 135 Q655 165 655 195" stroke-width="2.2"/>
</g>

<!-- Lower banjo & bolt -->
<g class="a" stroke-width="3.8" transform="translate(1050,950) scale(0.3333)">
<path d="M0 300 L360 450 M0 390 L330 520"/>
<path d="M330 505 Q345 460 390 445 L570 525 M345 550 Q325 530 330 505 M345 550 L525 635"/>
<path d="M525 590 Q560 520 630 520 Q710 550 710 630 Q690 700 610 710 Q540 700 520 640 Q510 610 525 590 Z"/>
<ellipse cx="575" cy="640" rx="42" ry="60" transform="rotate(-18 575 640)"/>
<path d="M440 690 L575 635 M708 575 L875 505 M945 475 L1050 430 M150 810 L365 725"/>
<ellipse cx="365" cy="725" rx="75" ry="105" transform="rotate(-20 365 725)"/>
<ellipse cx="355" cy="730" rx="45" ry="65" transform="rotate(-20 355 730)"/>
<path d="M430 700 Q450 770 420 810" stroke-width="2.4"/>
<ellipse cx="865" cy="505" rx="75" ry="105" transform="rotate(-20 865 505)"/>
<ellipse cx="855" cy="510" rx="45" ry="65" transform="rotate(-20 855 510)"/>
<path d="M930 480 Q950 550 920 590" stroke-width="2.4"/>
<path d="M1020 420 Q1020 395 1055 380 L1330 270 M1085 470 L1370 350"/>
<ellipse cx="1048" cy="435" rx="28" ry="42" transform="rotate(-18 1048 435)"/>
<path d="M1100 375 Q1130 415 1130 450 M1130 365 Q1160 395 1160 440 M1160 350 Q1190 380 1195 415 M1195 340 Q1225 365 1225 400" stroke-width="2"/>
<ellipse cx="1308" cy="345" rx="15" ry="22" stroke-width="2.4"/>
<path d="M1285 280 L1315 225 L1375 218 Q1425 250 1440 320 L1415 375 L1375 385 L1330 370"/>
<path d="M1330 268 Q1370 280 1375 330 Q1370 360 1330 370 M1365 270 L1400 325 L1375 385 M1400 325 L1440 315 M1365 270 L1385 225" stroke-width="2.6"/>
<path d="M1257 395 V540"/>
<path d="M430 810 L810 920 L885 615"/>
</g>

<!-- Labels -->
<g transform="scale(1.8986)">
<g class="l">
<text x="823" y="74.5">12</text>
<text x="867" y="166">13</text>
<text x="529" y="351.5">11</text>
<text x="727" y="409.5">3</text>
<text x="806" y="450">4</text>
<text x="877" y="481.5">2</text>
<text x="1400" y="352">1</text>
<text x="1268" y="509">6</text>
<text x="1122" y="665">5</text>
<text x="1266" y="729">7</text>
<text x="1124" y="758">10</text>
<text x="1071" y="793">9</text>
<text x="1065" y="1028">8</text>
<text x="775" y="617">12</text>
<text x="699" y="683">13</text>
</g>
<text x="1371" y="999" font-family="Liberation Sans, sans-serif" font-size="11.4" text-anchor="middle">Volvo Construction</text>
<text x="1371" y="1013" font-family="Liberation Sans, sans-serif" font-size="11.4" text-anchor="middle">Equipment</text>
<text x="1371" y="1036" font-family="Liberation Sans, sans-serif" font-size="19.5" font-weight="bold" text-anchor="middle">1033692</text>
</g>
</svg>
</body></html>
